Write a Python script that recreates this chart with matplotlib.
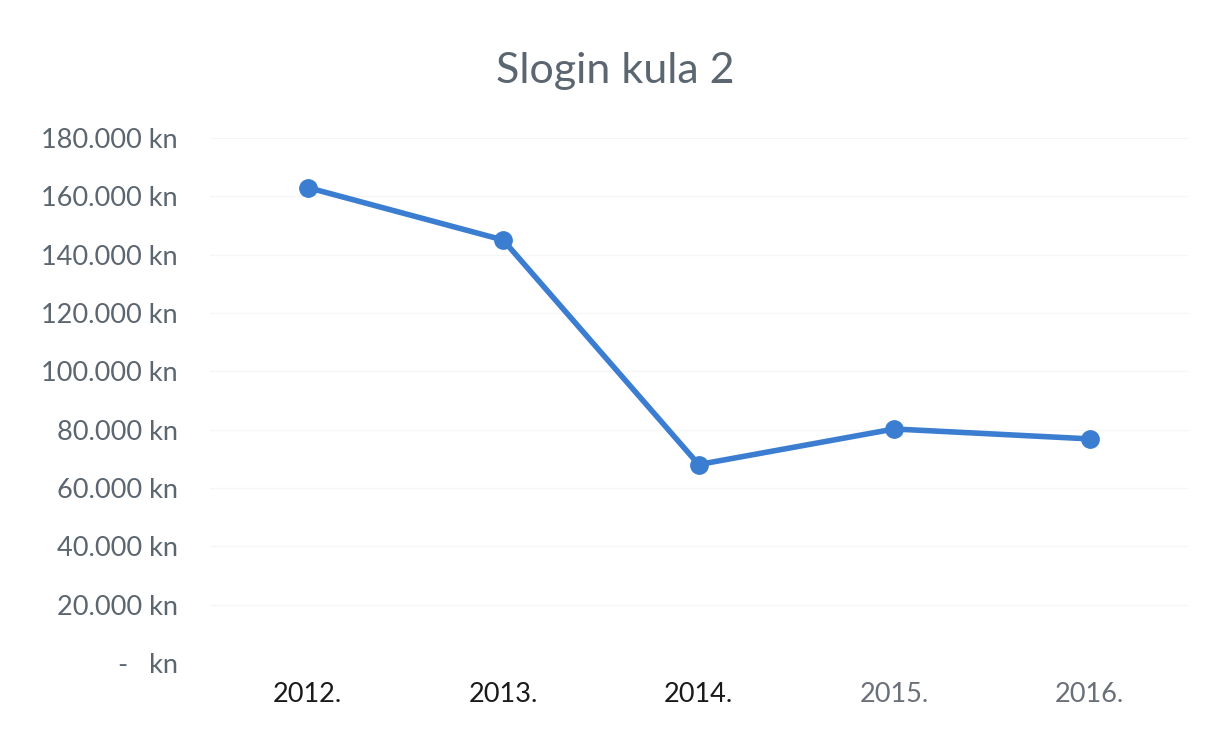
import matplotlib.pyplot as plt

# data
years = ['2012.', '2013.', '2014.', '2015.', '2016.']
values = [163000, 145000, 68000, 80200, 76800]
yticks = [0, 20000, 40000, 60000, 80000, 100000, 120000, 140000, 160000, 180000]
ytick_labels = ['-   kn', '20.000 kn', '40.000 kn', '60.000 kn', '80.000 kn',
                '100.000 kn', '120.000 kn', '140.000 kn', '160.000 kn', '180.000 kn']
xlabel_colors = ['#1a1a1a', '#1a1a1a', '#1a1a1a', '#6a7078', '#6a7078']

plt.rcParams['font.family'] = ['Lato', 'DejaVu Sans']

fig = plt.figure(figsize=(12.13, 7.3), dpi=100)
ax = fig.add_axes([0.173, 0.092, 0.806, 0.719])

x = list(range(len(years)))
ax.plot(x, values, color='#3b7dd0', linewidth=4, marker='o', markersize=12.5,
        solid_capstyle='round', zorder=3)

ax.set_xlim(-0.5, len(years) - 0.5)
ax.set_ylim(0, 180000)
ax.set_yticks(yticks)
ax.set_yticklabels(ytick_labels, fontsize=19.5, color='#5b6670')
ax.set_xticks(x)
ax.set_xticklabels(years, fontsize=19.5)
for lbl, c in zip(ax.get_xticklabels(), xlabel_colors):
    lbl.set_color(c)
ax.tick_params(axis='both', length=0)
ax.tick_params(axis='y', pad=23)
ax.tick_params(axis='x', pad=14)

ax.grid(axis='y', color='#f6f6f6', linewidth=1)
for s in ax.spines.values():
    s.set_visible(False)

fig.text(0.507, 0.903, 'Slogin kula 2', ha='center', va='center',
         fontsize=31, color='#5b6670')

fig.savefig('out.png', dpi=100)
